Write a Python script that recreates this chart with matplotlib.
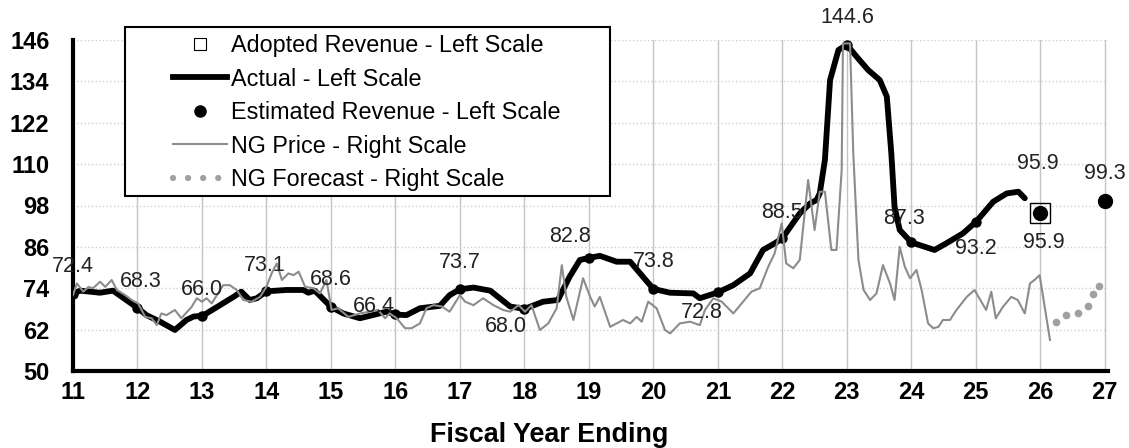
import matplotlib
matplotlib.use("Agg")
import numpy as np
from matplotlib import pyplot as plt
from matplotlib.lines import Line2D
from matplotlib.patches import Rectangle

plt.rcParams["font.family"] = ["Liberation Sans", "DejaVu Sans"]

# actual revenue (left scale)
actual_x = [11.0, 11.11, 11.42, 11.62, 12.0, 12.14, 12.35, 12.58, 12.76, 12.87,
            13.0, 13.07, 13.49, 13.61, 13.74, 13.85, 14.0, 14.31, 14.57, 14.65,
            14.75, 15.0, 15.19, 15.45, 15.71, 15.86, 16.0, 16.17, 16.38, 16.69,
            16.84, 17.0, 17.21, 17.47, 17.78, 18.0, 18.29, 18.52, 18.7, 18.86,
            19.0, 19.17, 19.43, 19.64, 19.84, 20.0, 20.26, 20.62, 20.72, 21.0,
            21.24, 21.5, 21.7, 21.88, 22.0, 22.27, 22.43, 22.53, 22.58, 22.66,
            22.74, 22.87, 23.0, 23.15, 23.33, 23.51, 23.62, 23.69, 23.74, 23.82,
            24.0, 24.36, 24.54, 24.8, 25.0, 25.27, 25.48, 25.66, 25.76]
actual_y = [72.4, 73.3, 72.7, 73.3, 68.3, 66.2, 64.3, 61.9, 64.8, 65.8,
            66.0, 66.7, 71.5, 73.0, 70.6, 71.1, 73.1, 73.5, 73.5, 72.7,
            73.3, 68.6, 66.7, 65.3, 66.5, 67.2, 66.4, 66.2, 68.2, 68.9,
            72.0, 73.7, 74.2, 73.3, 68.7, 68.0, 70.1, 70.6, 77.3, 82.2,
            82.8, 83.4, 81.7, 81.7, 77.3, 73.8, 72.7, 72.5, 71.1, 72.8,
            74.9, 78.3, 85.1, 87.0, 88.5, 95.7, 98.6, 99.6, 101.5, 111.2,
            134.4, 143.1, 144.6, 141.2, 137.3, 134.4, 129.6, 113.1, 97.6, 90.9,
            87.3, 85.1, 87.0, 89.9, 93.2, 99.1, 101.5, 102.0, 100.1]

# fiscal year-end values (labelled)
year_end = [11, 12, 13, 14, 15, 16, 17, 18, 19, 20, 21, 22, 23, 24, 25]
year_val = [72.4, 68.3, 66.0, 73.1, 68.6, 66.4, 73.7, 68.0, 82.8, 73.8,
            72.8, 88.5, 144.6, 87.3, 93.2]

# natural gas price (right scale, shown in left-scale units)
ng_x = [11.0, 11.06, 11.16, 11.24, 11.31, 11.42, 11.5, 11.6, 11.68, 11.81,
        11.91, 12.01, 12.12, 12.22, 12.3, 12.37, 12.45, 12.58, 12.68, 12.84,
        12.92, 13.0, 13.07, 13.15, 13.33, 13.43, 13.54, 13.64, 13.77, 13.9,
        14.0, 14.08, 14.16, 14.24, 14.34, 14.42, 14.5, 14.6, 14.73, 14.83,
        14.93, 15.01, 15.11, 15.27, 15.45, 15.6, 15.73, 15.84, 15.91, 16.02,
        16.15, 16.25, 16.38, 16.48, 16.59, 16.72, 16.84, 17.0, 17.08, 17.21,
        17.36, 17.52, 17.67, 17.78, 17.91, 18.01, 18.11, 18.24, 18.37, 18.5,
        18.58, 18.65, 18.76, 18.91, 19.02, 19.09, 19.17, 19.33, 19.43, 19.53,
        19.64, 19.74, 19.82, 19.92, 20.05, 20.18, 20.26, 20.41, 20.57, 20.72,
        20.8, 20.93, 21.06, 21.24, 21.39, 21.52, 21.65, 21.78, 21.88, 21.99,
        22.06, 22.17, 22.27, 22.4, 22.5, 22.58, 22.66, 22.76, 22.84, 22.92,
        22.94, 23.05, 23.1, 23.18, 23.26, 23.36, 23.46, 23.56, 23.67, 23.74,
        23.82, 23.9, 23.98, 24.08, 24.16, 24.26, 24.34, 24.42, 24.49, 24.6,
        24.7, 24.86, 24.98, 25.16, 25.24, 25.31, 25.42, 25.55, 25.65, 25.76,
        25.84, 25.91, 25.99, 26.15]
ng_y = [72.0, 75.4, 73.0, 74.4, 74.0, 75.9, 74.4, 76.4, 73.5, 72.0,
        70.6, 69.6, 65.7, 65.3, 63.3, 66.7, 66.2, 67.7, 65.3, 68.6,
        71.1, 70.1, 71.1, 69.6, 74.9, 74.9, 73.5, 70.6, 70.1, 71.5,
        74.4, 78.3, 81.2, 76.4, 78.3, 77.8, 78.8, 74.4, 74.0, 72.5,
        76.4, 67.7, 68.2, 65.7, 66.7, 67.2, 67.7, 65.3, 66.7, 65.3,
        62.4, 62.4, 63.8, 68.2, 69.1, 68.7, 67.2, 72.0, 70.1, 69.1,
        71.1, 69.1, 67.7, 67.2, 69.1, 67.2, 69.1, 61.9, 63.8, 68.2,
        80.7, 71.5, 64.8, 76.9, 71.5, 68.7, 71.5, 62.8, 63.8, 64.8,
        63.8, 65.7, 64.3, 70.1, 68.2, 61.9, 60.9, 63.8, 64.3, 63.3,
        67.7, 71.1, 70.1, 66.7, 70.1, 73.0, 74.0, 80.2, 84.1, 92.8,
        81.2, 79.8, 82.2, 105.4, 90.9, 102.0, 102.0, 85.1, 85.1, 108.3,
        145.0, 145.0, 113.1, 82.2, 73.5, 70.6, 72.5, 80.7, 75.4, 70.6,
        86.0, 80.2, 76.9, 79.3, 73.5, 63.8, 62.4, 62.8, 64.8, 64.8,
        67.7, 71.5, 73.5, 67.7, 73.0, 65.3, 68.6, 71.5, 70.6, 66.7,
        75.4, 76.4, 77.8, 59.0]

# natural gas forecast
ngf_x = [26.24, 26.4, 26.58, 26.74, 26.82, 26.91]
ngf_y = [64.1, 66.2, 66.9, 68.9, 72.3, 74.7]

adopted_x = [26]
adopted_y = [95.9]
est_x = [26, 27]
est_y = [95.9, 99.3]

yticks = [50, 62, 74, 86, 98, 110, 122, 134, 146]
xticks = list(range(11, 28))

# label offsets in pixels (dx, dy)
year_offsets = [(0, 27), (3, 26), (0, 26), (-2, 26), (0, 27), (-22, 8),
                (0, 27), (-19, -18), (-19, 21), (0, 27), (-16, -20),
                (0, 26), (0, 27), (-7, 24), (0, -26)]

W, H = 1129, 448
fig = plt.figure(figsize=(W / 100, H / 100), dpi=100)
ax = fig.add_axes([73 / W, 77 / H, 1035 / W, 331 / H])
ax2 = ax.twinx()

ax.set_xlim(11, 27.05)
ax.set_ylim(50, 146)
ax2.set_ylim(50, 146)
ax.set_xticks(xticks)
ax.set_yticks(yticks)
ax2.set_yticks([])

ax.grid(axis="x", color="#c4c4c4", lw=1.0, ls="-")
ax.grid(axis="y", color="#cfcfcf", lw=1.0, ls=":")
ax.set_axisbelow(True)

for side in ["top", "right"]:
    ax.spines[side].set_visible(False)
for side in ["top", "right", "left", "bottom"]:
    ax2.spines[side].set_visible(False)
ax.spines["left"].set_linewidth(3)
ax.spines["bottom"].set_linewidth(3)

ax.tick_params(axis="both", length=0, labelsize=17)
ax.tick_params(axis="y", pad=17)
ax.tick_params(axis="x", pad=7)
for lab in ax.get_xticklabels() + ax.get_yticklabels():
    lab.set_fontweight("bold")

# actual line + year-end dots
ax.plot(actual_x, actual_y, color="black", lw=4.2, solid_joinstyle="round",
        solid_capstyle="round", zorder=3)
ax.plot(year_end, year_val, "o", color="black", ms=6.5, zorder=4)
ax.plot(adopted_x, adopted_y, "s", ms=15, mfc="none", mec="black", mew=1.0, zorder=4)
ax.plot(est_x, est_y, "o", color="black", ms=10, zorder=5, clip_on=False)

ax2.plot(ng_x, ng_y, color="#8c8c8c", lw=1.5, zorder=3)
ax2.plot(ngf_x, ngf_y, "o", color="#a0a0a0", ms=4.5, ls="none", zorder=3)

# data labels
lab_kw = dict(textcoords="offset pixels", ha="center", va="center",
              fontsize=15.5, color="#222222")
for x, v, (dx, dy) in zip(year_end, year_val, year_offsets):
    ax2.annotate(f"{v:.1f}", (x, v), xytext=(dx, dy), **lab_kw)
ax2.annotate(f"{est_y[0]:.1f}", (est_x[0], est_y[0]), xytext=(-2, 49), **lab_kw)
ax2.annotate(f"{adopted_y[0]:.1f}", (adopted_x[0], adopted_y[0]), xytext=(4, -30), **lab_kw)
ax2.annotate(f"{est_y[1]:.1f}", (est_x[1], est_y[1]), xytext=(0, 28), **lab_kw)

fig.text(549 / W, 1 - 435 / H, "Fiscal Year Ending", ha="center", va="center",
         fontsize=19.4, fontweight="bold")

# legend
box = Rectangle((125 / W, 1 - 196 / H), 485 / W, 169 / H, transform=fig.transFigure,
                facecolor="white", edgecolor="black", lw=1.5, zorder=4)
fig.add_artist(box)
handles = [
    Line2D([], [], marker="s", ls="none", mfc="white", mec="black", mew=0.8, ms=9),
    Line2D([], [], color="black", lw=4.2),
    Line2D([], [], marker="o", ls="none", color="black", ms=8),
    Line2D([], [], color="#8c8c8c", lw=1.5),
    Line2D([], [], color="#a0a0a0", lw=4.5, ls=(0, (0.01, 2.4)), dash_capstyle="round"),
]
labels = ["Adopted Revenue - Left Scale", "Actual - Left Scale",
          "Estimated Revenue - Left Scale", "NG Price - Right Scale",
          "NG Forecast - Right Scale"]
leg = fig.legend(handles, labels, loc="upper left", bbox_to_anchor=(173 / W, 1 - 34 / H),
                 bbox_transform=fig.transFigure, frameon=False, fontsize=16.8,
                 handlelength=2.32, handletextpad=0.17, labelspacing=0.45,
                 borderpad=0, borderaxespad=0)
leg.set_zorder(6)

fig.savefig("out.png", dpi=100)
